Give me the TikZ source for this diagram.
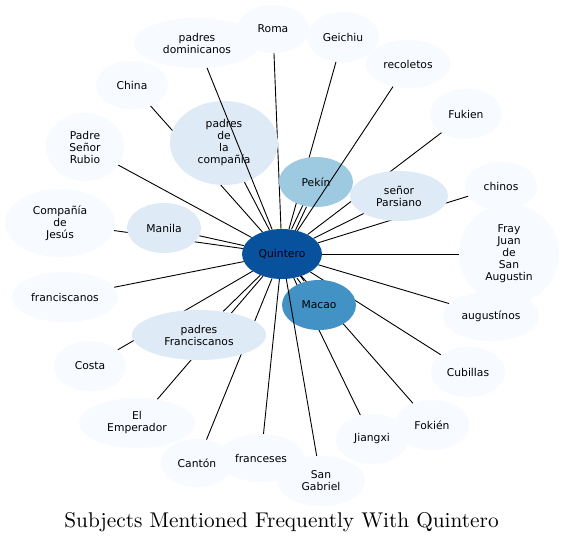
\documentclass[tikz,border=0pt]{standalone}
\usepackage{fontspec}
\newfontfamily\nodefont{DejaVu Sans}
\newfontfamily\titlefont{lmroman10-regular}[Extension=.otf]
\usetikzlibrary{shapes.geometric}
\definecolor{cA}{HTML}{F7FBFF}
\definecolor{cB}{HTML}{DEEBF7}
\definecolor{cD}{HTML}{9ECAE1}
\definecolor{cF}{HTML}{4292C6}
\definecolor{cH}{HTML}{08519C}
\pgfdeclarelayer{background}
\pgfsetlayers{background,main}
\tikzset{
  ent/.style={ellipse, draw=none, inner sep=0pt, align=center,
    font=\nodefont\fontsize{10.75}{12}\selectfont, text=black},
  sz/.style n args={2}{minimum width=#1pt, minimum height=#2pt},
  link/.style={draw=black, line width=0.9pt},
}
\begin{document}
\begin{tikzpicture}[x=1pt,y=-1pt]
\useasboundingbox (0,0) rectangle (565,542);
% nodes
\node[ent, fill=cH, sz={80}{50}] (Q) at (282,254) {Quintero};
\node[ent, fill=cF, sz={74}{50}] (macao) at (319,305) {Macao};
\node[ent, fill=cD, sz={74}{50}] (pekin) at (316,182) {Pekín};
\node[ent, fill=cB, sz={74}{50}] (manila) at (164,228) {Manila};
\node[ent, fill=cB, sz={108}{84}] (comp) at (224,143) {padres\\de\\la\\compañía};
\node[ent, fill=cB, sz={98}{50}] (pars) at (399,196) {señor\\Parsiano};
\node[ent, fill=cB, sz={134}{50}] (pfran) at (199,335) {padres\\Franciscanos};
\node[ent, fill=cA, sz={126}{50}] (dom) at (197,43) {padres\\dominicanos};
\node[ent, fill=cA, sz={72}{48}] (roma) at (273,29) {Roma};
\node[ent, fill=cA, sz={72}{48}] (china) at (132,85) {China};
\node[ent, fill=cA, sz={78}{68}] (rubio) at (85,147) {Padre\\Señor\\Rubio};
\node[ent, fill=cA, sz={110}{68}] (cdj) at (60,223) {Compañía\\de\\Jesús};
\node[ent, fill=cA, sz={72}{50}] (geichiu) at (343,37) {Geichiu};
\node[ent, fill=cA, sz={84}{48}] (recol) at (408,64) {recoletos};
\node[ent, fill=cA, sz={72}{50}] (fukien) at (466,114) {Fukien};
\node[ent, fill=cA, sz={72}{48}] (chinos) at (501,186) {chinos};
\node[ent, fill=cA, sz={100}{100}] (fray) at (509,254) {Fray\\Juan\\de\\San\\Augustin};
\node[ent, fill=cA, sz={106}{50}] (fcanos) at (65,297) {franciscanos};
\node[ent, fill=cA, sz={72}{50}] (costa) at (90,366) {Costa};
\node[ent, fill=cA, sz={116}{50}] (emp) at (137,423) {El\\Emperador};
\node[ent, fill=cA, sz={72}{48}] (canton) at (197,463) {Cantón};
\node[ent, fill=cA, sz={86}{48}] (franc) at (261,458) {franceses};
\node[ent, fill=cA, sz={88}{50}] (sgab) at (321,481) {San\\Gabriel};
\node[ent, fill=cA, sz={72}{50}] (jiang) at (372,439) {Jiangxi};
\node[ent, fill=cA, sz={74}{50}] (fokien) at (432,425) {Fokién};
\node[ent, fill=cA, sz={74}{50}] (cub) at (468,372) {Cubillas};
\node[ent, fill=cA, sz={96}{50}] (aug) at (491,316) {augustínos};
% title
\node[anchor=base, inner sep=0pt, font=\titlefont\fontsize{21.3}{24}\selectfont] (title) at (281.5,527) {Subjects Mentioned Frequently With Quintero};
% edges below nodes
\begin{pgfonlayer}{background}
\fill[white] (0,0) rectangle (565,542);
\foreach \n in {geichiu,cdj,costa,emp,canton,fukien,chinos,jiang,fokien,cub,china,
  manila,comp,pars,pfran,roma,rubio,fray,fcanos,franc,aug}
  \draw[link] (Q) -- (\n);
\draw[link, transform canvas={xshift=1.8pt, yshift=-0.85pt}] (Q) -- (pekin);
\draw[link, transform canvas={xshift=-1.8pt, yshift=0.85pt}] (Q) -- (pekin);
\draw[link, transform canvas={xshift=1.6pt, yshift=1.2pt}] (Q) -- (macao);
\draw[link, transform canvas={xshift=-1.6pt, yshift=-1.2pt}] (Q) -- (macao);
\end{pgfonlayer}
% edges above nodes
\draw[link] (Q) -- (dom);
\draw[link] (Q) -- (recol);
\draw[link] (Q) -- (sgab);
\end{tikzpicture}
\end{document}
